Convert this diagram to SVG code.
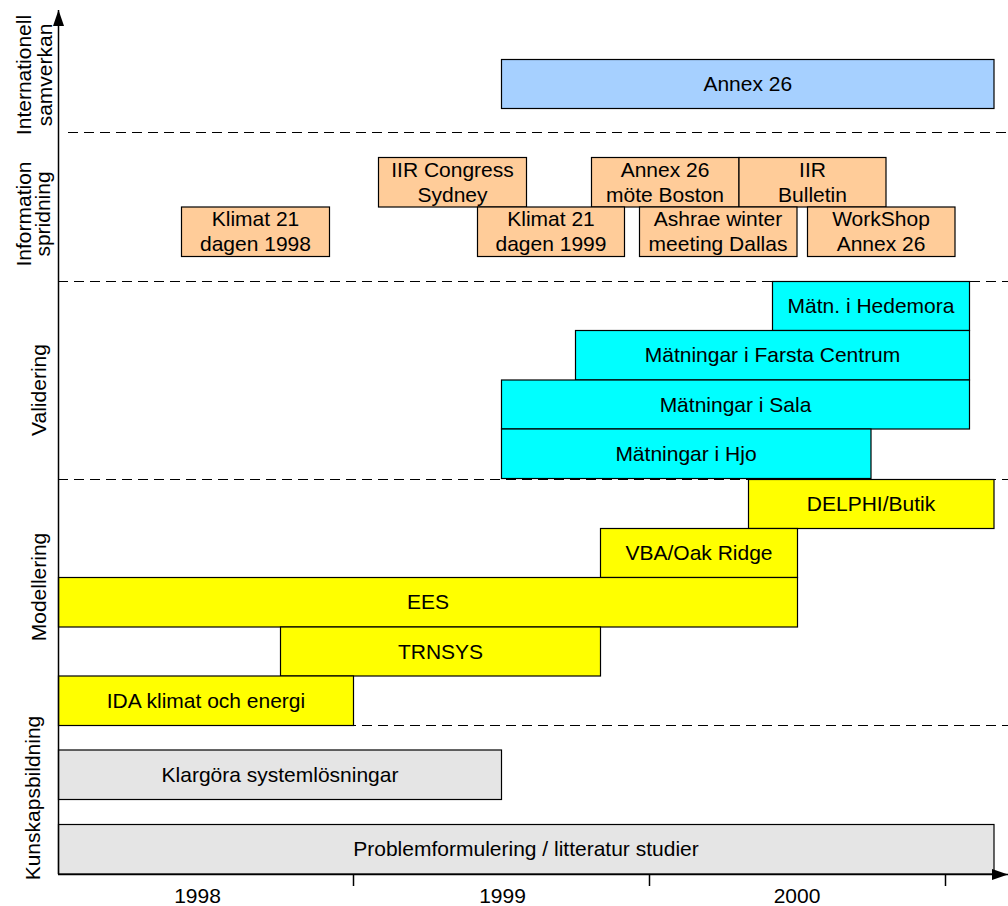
<svg xmlns="http://www.w3.org/2000/svg" width="1008" height="906" viewBox="0 0 1008 906">
<style>
text{font-family:"Liberation Sans",Arial,sans-serif;font-size:21px;fill:#000}
.c{text-anchor:middle}
.b rect{stroke:#000;stroke-width:1.2}
.o{fill:#FFCC99}.y{fill:#FFFF00}.cy{fill:#00FFFF}.g{fill:#E5E5E5}.bl{fill:#A6D0FF}
.d{stroke:#000;stroke-width:1;stroke-dasharray:10,6;fill:none}
.ax{stroke:#000;stroke-width:1.5;fill:none}
</style>
<defs>
<marker id="ah" markerWidth="16" markerHeight="11" refX="16" refY="5.5" orient="auto" markerUnits="userSpaceOnUse">
<path d="M0,0 L16,5.5 L0,11 Z" fill="#000"/>
</marker>
</defs>
<rect width="1008" height="906" fill="#fff"/>
<g id="separators">
<line class="d" x1="68" y1="132.5" x2="1008" y2="132.5"/>
<line class="d" x1="58" y1="281.5" x2="1008" y2="281.5"/>
<line class="d" x1="58" y1="479.5" x2="1008" y2="479.5"/>
<line class="d" x1="58" y1="725.5" x2="1008" y2="725.5"/>
</g>
<g id="category-labels">
<text class="c" transform="translate(31,75) rotate(-90)">Internationell</text>
<text class="c" transform="translate(52,75) rotate(-90)">samverkan</text>
<text class="c" transform="translate(31,214) rotate(-90)">Information</text>
<text class="c" transform="translate(50,214) rotate(-90)">spridning</text>
<text class="c" transform="translate(46,390) rotate(-90)">Validering</text>
<text class="c" transform="translate(46,587) rotate(-90)">Modellering</text>
<text class="c" transform="translate(40,798) rotate(-90)">Kunskapsbildning</text>
</g>
<g id="annex26" class="b"><rect class="bl" x="501.5" y="59.5" width="492.5" height="49"/><text class="c" x="747.75" y="91">Annex 26</text></g>
<g id="iir-congress" class="b"><rect class="o" x="378.5" y="157.5" width="148" height="49.5"/><text class="c" x="452.5" y="177">IIR Congress</text><text class="c" x="452.5" y="202">Sydney</text></g>
<g id="annex26-boston" class="b"><rect class="o" x="591.5" y="157.5" width="147.5" height="49.5"/><text class="c" x="665" y="177">Annex 26</text><text class="c" x="665" y="202">möte Boston</text></g>
<g id="iir-bulletin" class="b"><rect class="o" x="739" y="157.5" width="147" height="49.5"/><text class="c" x="812.5" y="177">IIR</text><text class="c" x="812.5" y="202">Bulletin</text></g>
<g id="klimat21-1998" class="b"><rect class="o" x="181.5" y="207" width="148" height="49.5"/><text class="c" x="255.5" y="226">Klimat 21</text><text class="c" x="255.5" y="251">dagen 1998</text></g>
<g id="klimat21-1999" class="b"><rect class="o" x="477.5" y="207" width="147" height="49.5"/><text class="c" x="551" y="226">Klimat 21</text><text class="c" x="551" y="251">dagen 1999</text></g>
<g id="ashrae" class="b"><rect class="o" x="639.5" y="207" width="157.5" height="49.5"/><text class="c" x="718" y="226">Ashrae winter</text><text class="c" x="718" y="251">meeting Dallas</text></g>
<g id="workshop" class="b"><rect class="o" x="807.5" y="207" width="147.5" height="49.5"/><text class="c" x="881" y="226">WorkShop</text><text class="c" x="881" y="251">Annex 26</text></g>
<g id="hedemora" class="b"><rect class="cy" x="772.5" y="281.5" width="197" height="49"/><text class="c" x="871" y="313">Mätn. i Hedemora</text></g>
<g id="farsta" class="b"><rect class="cy" x="575.5" y="330.5" width="394" height="49.5"/><text class="c" x="772.5" y="362">Mätningar i Farsta Centrum</text></g>
<g id="sala" class="b"><rect class="cy" x="501.5" y="380" width="468" height="49"/><text class="c" x="735.5" y="411.5">Mätningar i Sala</text></g>
<g id="hjo" class="b"><rect class="cy" x="501.5" y="429" width="369.5" height="49.5"/><text class="c" x="686" y="461">Mätningar i Hjo</text></g>
<g id="delphi" class="b"><rect class="y" x="748.5" y="479.5" width="245.5" height="49"/><text class="c" x="871" y="511">DELPHI/Butik</text></g>
<g id="vba" class="b"><rect class="y" x="600.5" y="528.5" width="197" height="49"/><text class="c" x="699" y="560">VBA/Oak Ridge</text></g>
<g id="ees" class="b"><rect class="y" x="58.5" y="577.5" width="739" height="49.5"/><text class="c" x="428" y="609">EES</text></g>
<g id="trnsys" class="b"><rect class="y" x="280.5" y="627" width="320" height="49"/><text class="c" x="440.5" y="658.5">TRNSYS</text></g>
<g id="ida" class="b"><rect class="y" x="58.5" y="676" width="295" height="49.5"/><text class="c" x="206" y="708">IDA klimat och energi</text></g>
<g id="klargora" class="b"><rect class="g" x="58.5" y="750" width="443" height="49.5"/><text class="c" x="280" y="782">Klargöra systemlösningar</text></g>
<g id="problem" class="b"><rect class="g" x="58.5" y="824.5" width="935.5" height="49.5"/><text class="c" x="526" y="856">Problemformulering / litteratur studier</text></g>
<g id="axes">
<line class="ax" x1="58.5" y1="874" x2="58.5" y2="10" marker-end="url(#ah)"/>
<line class="ax" x1="58" y1="874.5" x2="1008" y2="874.5" marker-end="url(#ah)"/>
<line class="ax" x1="353.5" y1="874" x2="353.5" y2="886"/>
<line class="ax" x1="649.5" y1="874" x2="649.5" y2="886"/>
<line class="ax" x1="945.5" y1="874" x2="945.5" y2="886"/>
<text class="c" x="197.5" y="903">1998</text>
<text class="c" x="502.5" y="903">1999</text>
<text class="c" x="797" y="903">2000</text>
</g>
</svg>
